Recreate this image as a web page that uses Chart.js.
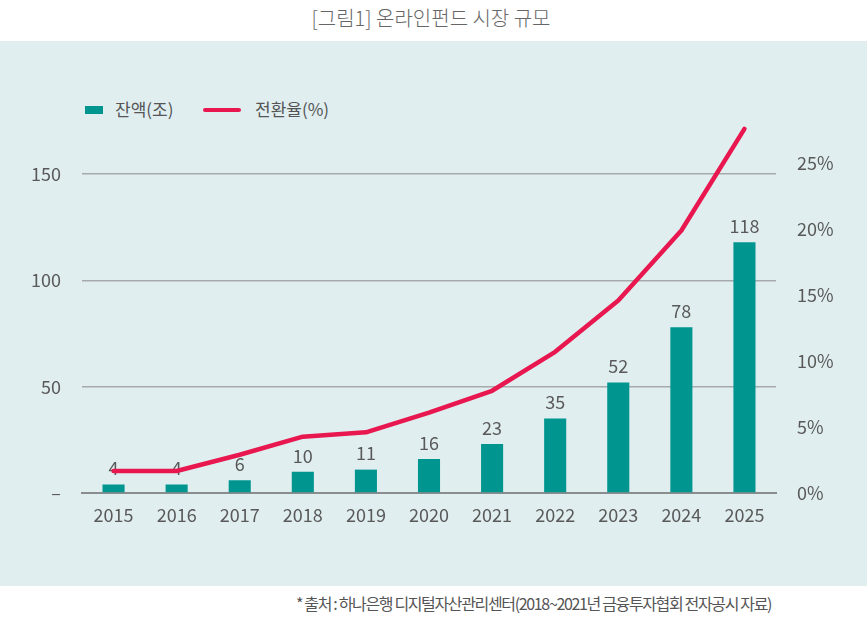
<!DOCTYPE html>
<html>
<head>
<meta charset="utf-8">
<script src="https://cdn.jsdelivr.net/npm/chart.js@4.4.0/dist/chart.umd.min.js"></script>
<style>
  html, body { margin: 0; padding: 0; background: #ffffff; }
  body { width: 867px; height: 636px; position: relative; overflow: hidden;
         font-family: "Noto Sans CJK KR", "Noto Sans", sans-serif; }
  #panel { position: absolute; left: 0; top: 41px; width: 867px; height: 545px; background: #e0eef0; }
  #title { position: absolute; left: 0; width: 862px; top: 4px; text-align: center;
           font-size: 20px; color: #666666; line-height: 28px; font-weight: 300; }
  #foot { position: absolute; left: 296px; top: 590px; font-size: 16px; color: #555;
          line-height: 26px; white-space: nowrap; letter-spacing: -1.35px; }
  #chartwrap { position: absolute; left: 0; top: 0; width: 867px; height: 636px; }
  .lg { position: absolute; font-size: 17px; color: #555; line-height: 22px; top: 98px; }
  .sw { position: absolute; }
</style>
</head>
<body>
<div id="panel"></div>
<div id="title">[그림1] 온라인펀드 시장 규모</div>
<div class="sw" style="left:85px;top:106px;width:18px;height:8px;background:#00968f;"></div>
<div class="lg" style="left:115px;">잔액(조)</div>
<div class="sw" style="left:203px;top:108px;width:38px;height:4px;background:#e8174f;border-radius:2px;"></div>
<div class="lg" style="left:255px;">전환율(%)</div>
<div id="foot">* 출처 : 하나은행 디지털자산관리센터(2018~2021년 금융투자협회 전자공시 자료)</div>
<div id="chartwrap"><canvas id="c" width="867" height="636"></canvas></div>
<script>
const years = ['2015','2016','2017','2018','2019','2020','2021','2022','2023','2024','2025'];
const balance = [4, 4, 6, 10, 11, 16, 23, 35, 52, 78, 118];
const conversionRate = [1.67, 1.67, 2.9, 4.27, 4.6, 6.1, 7.75, 10.7, 14.6, 19.9, 27.6];
const leftTicks = [0, 50, 100, 150];
const rightTicks = [0, 5, 10, 15, 20, 25];

const TEAL = '#00968f';
const RED = '#e8174f';
const TXT = '#595959';
const FONT = '"Noto Sans CJK KR", "Noto Sans", sans-serif';

const barLabels = {
  id: 'barLabels',
  afterDatasetDraw(chart, args) {
    if (args.index !== 1) return;
    const ctx = chart.ctx;
    const meta = chart.getDatasetMeta(1);
    ctx.save();
    ctx.font = '18px ' + FONT;
    ctx.fillStyle = TXT;
    ctx.textAlign = 'center';
    ctx.textBaseline = 'bottom';
    meta.data.forEach((el, i) => {
      ctx.fillText(String(balance[i]), el.x, el.y - 7);
    });
    ctx.restore();
  }
};

new Chart(document.getElementById('c'), {
  data: {
    labels: years,
    datasets: [
      {
        type: 'line',
        label: '전환율(%)',
        data: conversionRate,
        yAxisID: 'y1',
        borderColor: RED,
        backgroundColor: RED,
        borderWidth: 4.5,
        pointRadius: 0,
        tension: 0,
        borderCapStyle: 'round',
        borderJoinStyle: 'round',
        clip: false,
        order: 0
      },
      {
        type: 'bar',
        label: '잔액(조)',
        data: balance,
        yAxisID: 'y',
        backgroundColor: TEAL,
        barPercentage: 0.7,
        categoryPercentage: 0.5,
        order: 1
      }
    ]
  },
  options: {
    responsive: false,
    animation: false,
    layout: { padding: { top: 121, left: 0, right: 0, bottom: 0 } },
    plugins: { legend: { display: false }, tooltip: { enabled: false } },
    scales: {
      x: {
        grid: { display: false, drawTicks: false },
        border: { display: true, color: '#8a8d8e', width: 2 },
        ticks: { color: TXT, font: { size: 18, family: FONT }, padding: 11 },
        afterFit(s) { s.height = 143; }
      },
      y: {
        position: 'left',
        min: 0, max: 175,
        grid: { color: '#a6aaab', lineWidth: 1.5, drawTicks: false },
        border: { display: false },
        ticks: {
          stepSize: 50,
          color: TXT, font: { size: 18, family: FONT }, padding: 21,
          callback: v => v === 0 ? '–' : String(v)
        },
        afterBuildTicks(s) { s.ticks = leftTicks.map(v => ({ value: v })); },
        afterFit(s) { s.width = 82; }
      },
      y1: {
        position: 'right',
        min: 0, max: 28.2,
        grid: { display: false, drawTicks: false },
        border: { display: false },
        ticks: {
          stepSize: 5,
          color: TXT, font: { size: 18, family: FONT }, padding: 21,
          callback: v => v + '%'
        },
        afterBuildTicks(s) { s.ticks = rightTicks.map(v => ({ value: v })); },
        afterFit(s) { s.width = 91; }
      }
    }
  },
  plugins: [barLabels]
});
</script>
</body>
</html>
